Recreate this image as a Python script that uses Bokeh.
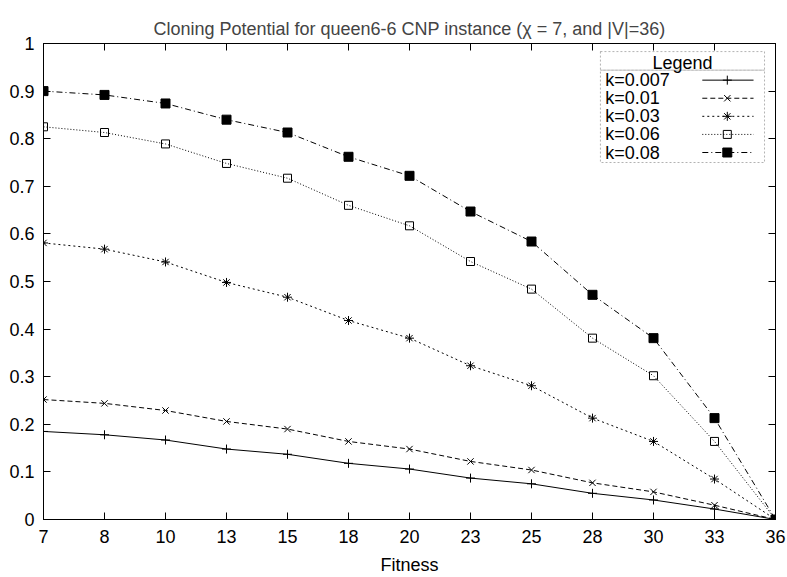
from bokeh.plotting import figure
from bokeh.models import Range1d, FixedTicker, LinearAxis, BoxAnnotation, Label, NumeralTickFormatter
from bokeh.embed import file_html
from bokeh.resources import INLINE

# ---------------- data ----------------
fitness = [7, 8, 10, 13, 15, 18, 20, 23, 25, 28, 30, 33, 36]
series_names = ["k=0.007", "k=0.01", "k=0.03", "k=0.06", "k=0.08"]
k0007 = [0.185, 0.178, 0.167, 0.148, 0.137, 0.118, 0.106, 0.087, 0.075, 0.055, 0.041, 0.022, 0.0]
k001 = [0.252, 0.244, 0.229, 0.206, 0.190, 0.164, 0.148, 0.122, 0.104, 0.077, 0.058, 0.030, 0.0]
k003 = [0.581, 0.568, 0.541, 0.498, 0.467, 0.418, 0.381, 0.323, 0.281, 0.213, 0.164, 0.085, 0.0]
k006 = [0.825, 0.813, 0.789, 0.748, 0.717, 0.660, 0.617, 0.542, 0.484, 0.381, 0.302, 0.164, 0.0]
k008 = [0.900, 0.892, 0.874, 0.840, 0.813, 0.762, 0.722, 0.647, 0.584, 0.472, 0.381, 0.213, 0.0]
y_ticks = [0, 0.1, 0.2, 0.3, 0.4, 0.5, 0.6, 0.7, 0.8, 0.9, 1]

series = [k0007, k001, k003, k006, k008]

# ---------------- styles ----------------
FONT = "Liberation Sans"
FS = "18px"
styles = [
    dict(dash="solid", marker="cross", size=9, fill=None),
    dict(dash="5 3", marker="x", size=9, fill=None),
    dict(dash="2 3", marker="asterisk", size=9, fill=None),
    dict(dash="1 2", marker="square", size=8, fill=None),
    dict(dash="6 3 1 3", marker="square", size=9, fill="black"),
]

xpos = list(range(len(fitness)))

p = figure(width=787, height=577, x_range=Range1d(0, len(fitness) - 1), y_range=Range1d(0, 1),
           output_backend="svg", toolbar_location=None,
           title="Cloning Potential for queen6-6 CNP instance (\u03c7 = 7, and |V|=36)",
           min_border_left=43, min_border_right=12, min_border_top=43, min_border_bottom=58)

p.title.text_font = FONT
p.title.text_font_size = FS
p.title.text_font_style = "normal"
p.title.align = "center"
p.title.standoff = 10

p.xgrid.visible = False
p.ygrid.visible = False
p.outline_line_color = "black"
p.outline_line_width = 1
p.background_fill_color = "white"
p.border_fill_color = "white"

xt = FixedTicker(ticks=xpos)
yt = FixedTicker(ticks=y_ticks)
p.xaxis.ticker = xt
p.yaxis.ticker = yt
p.xaxis.major_label_overrides = {i: str(f) for i, f in zip(xpos, fitness)}
p.yaxis.formatter = NumeralTickFormatter(format="0.[0]")
p.xaxis.axis_label = "Fitness"

for ax in (p.xaxis[0], p.yaxis[0]):
    ax.axis_line_color = "black"
    ax.major_tick_in = 7
    ax.major_tick_out = 0
    ax.minor_tick_line_color = None
    ax.major_tick_line_color = "black"
    ax.major_label_text_font = FONT
    ax.major_label_text_font_size = FS
    ax.major_label_text_color = "black"
    ax.axis_label_text_font = FONT
    ax.axis_label_text_font_size = FS
    ax.axis_label_text_font_style = "normal"
    ax.axis_label_text_color = "black"
p.xaxis.major_label_standoff = 10
p.yaxis.major_label_standoff = 9
p.xaxis.axis_label_standoff = 9

# mirrored axes (ticks only, no labels)
for loc, tk in (("right", yt), ("above", xt)):
    ax = LinearAxis(ticker=tk)
    ax.axis_line_color = "black"
    ax.major_tick_in = 7
    ax.major_tick_out = 0
    ax.minor_tick_line_color = None
    ax.major_label_text_font_size = "1px"
    ax.major_label_text_color = None
    ax.major_label_standoff = 0
    p.add_layout(ax, loc)

# ---------------- series ----------------
for ys, st in zip(series, styles):
    p.line(xpos, ys, line_color="black", line_width=1, line_dash=st["dash"])
    p.scatter(xpos, ys, marker=st["marker"], size=st["size"], line_color="black", line_width=1,
              fill_color=st["fill"], fill_alpha=1 if st["fill"] else 0)

# ---------------- legend (drawn manually, gnuplot style) ----------------
LEG_L, LEG_R, LEG_T, LEG_B = 9.13, 11.82, 0.983, 0.750
LEG_TITLE_Y, LEG_SEP_Y = 0.960, 0.944
ROW0, ROW_STEP = 0.923, 0.038
TXT_X, S0, S1, SM = 9.21, 10.80, 11.64, 11.21

p.add_layout(BoxAnnotation(left=LEG_L, right=LEG_R, top=LEG_T, bottom=LEG_B,
                           fill_color="white", fill_alpha=1, line_color="black",
                           line_width=1, line_dash="2 2", level="underlay"))
p.add_layout(BoxAnnotation(left=LEG_L, right=LEG_R, top=LEG_SEP_Y, bottom=LEG_SEP_Y,
                           fill_alpha=0, line_color="black", line_width=1, line_dash="2 2",
                           level="underlay"))
p.add_layout(Label(x=(LEG_L + LEG_R) / 2, y=LEG_TITLE_Y, text="Legend", text_align="center",
                   text_baseline="middle", text_font=FONT, text_font_size=FS,
                   text_color="black"))
for i, (name, st) in enumerate(zip(series_names, styles)):
    ry = ROW0 - i * ROW_STEP
    p.add_layout(Label(x=TXT_X, y=ry, text=name, text_align="left", text_baseline="middle",
                       text_font=FONT, text_font_size=FS, text_color="black"))
    p.line([S0, S1], [ry, ry], line_color="black", line_width=1, line_dash=st["dash"])
    p.scatter([SM], [ry], marker=st["marker"], size=st["size"], line_color="black",
              line_width=1, fill_color=st["fill"], fill_alpha=1 if st["fill"] else 0)

open("out.html", "w").write(file_html(p, INLINE))
